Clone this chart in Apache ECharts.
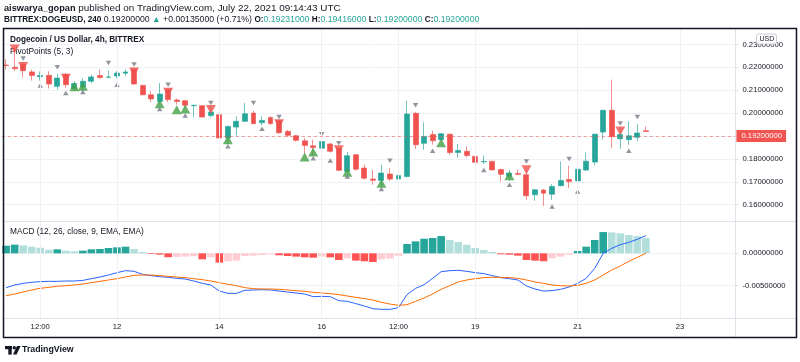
<!DOCTYPE html>
<html><head><meta charset="utf-8">
<script src="https://cdn.jsdelivr.net/npm/echarts@6/dist/echarts.min.js"></script>
<style>html,body{margin:0;padding:0;background:#fff}#c{width:800px;height:362px}</style>
</head><body><div id="c"></div>
<script>
// ---- price data (4h candles, 2021-07-09 20:00 .. 2021-07-22 08:00 UTC)
const opens  = [0.2210,0.2200,0.2212,0.2180,0.2159,0.2165,0.2117,0.2168,0.2107,0.2114,0.2139,0.2164,0.2156,0.2162,0.2174,0.2190,0.2121,0.2080,0.2051,0.2102,0.2057,0.2054,0.2032,0.2032,0.1989,0.1993,0.1891,0.1939,0.1964,0.2000,0.1958,0.1981,0.1967,0.1920,0.1901,0.1879,0.1857,0.1847,0.1865,0.1847,0.1745,0.1818,0.1760,0.1712,0.1706,0.1734,0.1712,0.1723,0.1999,0.1868,0.1906,0.1884,0.1908,0.1828,0.1833,0.1811,0.1787,0.1789,0.1754,0.1723,0.1736,0.1731,0.1643,0.1664,0.1646,0.1683,0.1710,0.1704,0.1751,0.1786,0.1917,0.2012,0.1888,0.1884,0.1894,0.19231];
const highs  = [0.2235,0.2285,0.2223,0.2190,0.2182,0.2183,0.2171,0.2175,0.2139,0.2153,0.2168,0.2190,0.2187,0.2183,0.2190,0.2200,0.2124,0.2095,0.2131,0.2107,0.2063,0.2057,0.2037,0.2035,0.2029,0.1996,0.1946,0.1986,0.2044,0.2010,0.1986,0.1986,0.1971,0.1927,0.1905,0.1891,0.1884,0.1884,0.1870,0.1850,0.1830,0.1821,0.1774,0.1751,0.1774,0.1760,0.1738,0.2054,0.2005,0.1959,0.1923,0.1913,0.1910,0.1865,0.1855,0.1837,0.1815,0.1793,0.1757,0.1752,0.1753,0.1753,0.1669,0.1669,0.1690,0.1789,0.1770,0.1777,0.1828,0.1910,0.2015,0.2146,0.1938,0.1964,0.1952,0.19416];
const lows   = [0.2190,0.2183,0.2156,0.2142,0.2142,0.2107,0.2102,0.2110,0.2098,0.2095,0.2131,0.2150,0.2152,0.2153,0.2161,0.2124,0.2078,0.2047,0.2037,0.2048,0.2037,0.2025,0.1981,0.1981,0.1981,0.1873,0.1865,0.1903,0.1961,0.1952,0.1946,0.1950,0.1910,0.1895,0.1876,0.1818,0.1818,0.1815,0.1828,0.1748,0.1738,0.1748,0.1709,0.1687,0.1680,0.1704,0.1707,0.1719,0.1843,0.1840,0.1862,0.1880,0.1818,0.1806,0.1806,0.1771,0.1777,0.1750,0.1701,0.1704,0.1728,0.1621,0.1617,0.1595,0.1621,0.1680,0.1672,0.1684,0.1748,0.1771,0.1884,0.1847,0.1844,0.1862,0.1879,0.1920];
const closes = [0.2208,0.2194,0.2185,0.2164,0.2164,0.2127,0.2153,0.2124,0.2129,0.2139,0.2158,0.2155,0.2158,0.2175,0.2180,0.2127,0.2080,0.2062,0.2083,0.2059,0.2051,0.2034,0.2034,0.1983,0.2005,0.1891,0.1942,0.1964,0.1997,0.1954,0.1968,0.1954,0.1914,0.1903,0.1881,0.1859,0.1850,0.1876,0.1833,0.1750,0.1814,0.1755,0.1716,0.1707,0.1738,0.1712,0.1728,0.1996,0.1862,0.1898,0.1879,0.1910,0.1828,0.1837,0.1815,0.1785,0.1789,0.1752,0.1733,0.1738,0.1733,0.1639,0.1665,0.1650,0.1680,0.1706,0.1701,0.1755,0.1790,0.1908,0.2012,0.1897,0.1906,0.1901,0.1913,0.1920];
const lastPrice = 0.1920;

// ---- pivot markers (candle index, price)
const pivotHighIdx = [2,6,12,15,19,24,29,32,37,39,45,48,61,66,72,74];
const pivotHighVal = [0.2238,0.2200,0.2219,0.2212,0.2124,0.2044,0.2044,0.1983,0.1908,0.1868,0.1792,0.2034,0.1789,0.1799,0.1955,0.1983];
const pivotLowIdx  = [4,7,9,13,18,21,26,30,36,38,40,44,50,56,59,64,67,73];
const pivotLowVal  = [0.2120,0.2088,0.2092,0.2124,0.2018,0.1990,0.1855,0.1932,0.1803,0.1793,0.1723,0.1668,0.1836,0.1751,0.1687,0.1592,0.1658,0.1836];
const bigHighIdx = [1,2,7,15,19,24,32,39,61,72];
const bigHighVal = [0.2280,0.2203,0.2152,0.2180,0.2091,0.2016,0.1954,0.1840,0.1753,0.1922];
const bigLowIdx  = [8,9,18,20,21,26,35,36,40,44,51,59];
const bigLowVal  = [0.2115,0.2117,0.2041,0.2015,0.2018,0.1884,0.1808,0.1830,0.1742,0.1694,0.1871,0.1726];

// ---- MACD (12, 26, close, 9)
const macdLine = [-0.00531,-0.00490,-0.00464,-0.00448,-0.00438,-0.00433,-0.00433,-0.00428,-0.00428,-0.00418,-0.00392,-0.00366,-0.00335,-0.00299,-0.00268,-0.00278,-0.00325,-0.00345,-0.00361,-0.00371,-0.00387,-0.00397,-0.00428,-0.00464,-0.00490,-0.00583,-0.00619,-0.00619,-0.00572,-0.00567,-0.00562,-0.00567,-0.00583,-0.00598,-0.00613,-0.00629,-0.00670,-0.00665,-0.00670,-0.00732,-0.00742,-0.00778,-0.00814,-0.00856,-0.00866,-0.00866,-0.00840,-0.00639,-0.00541,-0.00485,-0.00387,-0.00284,-0.00268,-0.00263,-0.00278,-0.00299,-0.00314,-0.00345,-0.00376,-0.00392,-0.00412,-0.00505,-0.00552,-0.00583,-0.00577,-0.00557,-0.00521,-0.00464,-0.00387,-0.00232,0.00000,0.00077,0.00134,0.00170,0.00217,0.00273];
const signalLine = [-0.00655,-0.00629,-0.00598,-0.00567,-0.00541,-0.00526,-0.00510,-0.00500,-0.00490,-0.00474,-0.00454,-0.00433,-0.00412,-0.00392,-0.00366,-0.00340,-0.00335,-0.00335,-0.00345,-0.00356,-0.00366,-0.00376,-0.00392,-0.00407,-0.00428,-0.00454,-0.00479,-0.00500,-0.00531,-0.00546,-0.00552,-0.00552,-0.00557,-0.00567,-0.00577,-0.00588,-0.00603,-0.00613,-0.00624,-0.00639,-0.00660,-0.00680,-0.00701,-0.00722,-0.00758,-0.00784,-0.00804,-0.00794,-0.00742,-0.00691,-0.00629,-0.00557,-0.00500,-0.00443,-0.00412,-0.00392,-0.00376,-0.00371,-0.00371,-0.00376,-0.00387,-0.00412,-0.00443,-0.00464,-0.00490,-0.00500,-0.00505,-0.00495,-0.00464,-0.00412,-0.00335,-0.00258,-0.00196,-0.00124,-0.00062,0.00000];
const histogram = [0.00118,0.00134,0.00123,0.00103,0.00087,0.00055,0.00062,0.00041,0.00031,0.00041,0.00062,0.00067,0.00082,0.00093,0.00103,0.00067,0.00021,-0.00010,-0.00020,-0.00060,-0.00055,-0.00050,-0.00045,-0.00093,-0.00060,-0.00144,-0.00123,-0.00113,-0.00041,-0.00036,-0.00026,-0.00015,-0.00030,-0.00041,-0.00051,-0.00062,-0.00067,-0.00051,-0.00062,-0.00103,-0.00077,-0.00113,-0.00123,-0.00134,-0.00093,-0.00082,-0.00040,0.00144,0.00185,0.00226,0.00237,0.00267,0.00206,0.00175,0.00134,0.00082,0.00051,0.00021,-0.00015,-0.00021,-0.00036,-0.00103,-0.00113,-0.00123,-0.00077,-0.00051,-0.00021,0.00036,0.00103,0.00206,0.00329,0.00324,0.00309,0.00283,0.00267,0.00237];

// ---- time axis
const slotCount = 86;
const startUTC = Date.UTC(2021, 6, 9, 20);
const xTickCats   = ['07-10 12:00','07-12 00:00','07-14 00:00','07-16 00:00','07-17 12:00','07-19 00:00','07-21 00:00','07-23 00:00'];
const xTickLabels = ['12:00','12','14','16','12:00','19','21','23'];

const pad = n => (n < 10 ? '0' : '') + n;
const categories = [];
for (let i = 0; i < slotCount; i++) {
  const d = new Date(startUTC + i * 4 * 3600e3);
  categories.push(pad(d.getUTCMonth() + 1) + '-' + pad(d.getUTCDate()) + ' ' + pad(d.getUTCHours()) + ':00');
}

const UP = '#26a69a', DOWN = '#ef5350';
const FONT = 'Liberation Sans, Arial, sans-serif';
const TXT = '#131722';

const candleData = opens.map((o, i) => [o, closes[i], lows[i], highs[i]]);
const histColors = histogram.map((h, i) => {
  const prev = i > 0 ? histogram[i - 1] : 0;
  if (h >= 0) return h > prev ? '#26a69a' : '#b2dfdb';
  return h < prev ? '#ff5252' : '#ffcdd2';
});

const chart = echarts.init(document.getElementById('c'), null, {renderer: 'canvas'});
const gridLeft = 1.84, gridWidth = 733.6;
const vLines = xTickCats.map(c => ({xAxis: c}));
const gridLineStyle = {color: '#eff1f5', width: 1, type: 'solid'};

chart.setOption({
  animation: false,
  backgroundColor: '#fff',
  textStyle: {fontFamily: FONT},
  grid: [
    {left: gridLeft, top: 28, width: gridWidth, height: 193},
    {left: gridLeft, top: 221, width: gridWidth, height: 97}
  ],
  xAxis: [
    {type: 'category', gridIndex: 0, data: categories, boundaryGap: true,
     axisLine: {show: false}, axisTick: {show: false}, axisLabel: {show: false}, splitLine: {show: false}},
    {type: 'category', gridIndex: 1, data: categories, boundaryGap: true,
     axisLine: {show: false}, axisTick: {show: false}, splitLine: {show: false},
     axisLabel: {show: true, color: TXT, fontSize: 7.7, fontFamily: FONT, margin: 5,
       interval: (idx, val) => xTickCats.indexOf(val) >= 0,
       formatter: val => { const k = xTickCats.indexOf(val); return k >= 0 ? xTickLabels[k] : ''; }}}
  ],
  yAxis: [
    {type: 'value', gridIndex: 0, position: 'right', min: 0.15288, max: 0.23716, splitNumber: 8, scale: true,
     axisLine: {show: false}, axisTick: {show: true, length: 3, lineStyle: {color: '#e0e3eb'}},
     axisLabel: {color: TXT, fontSize: 7.7, fontFamily: FONT, margin: 7, showMinLabel: false, showMaxLabel: false,
       formatter: v => v.toFixed(8)},
     splitLine: {show: true, lineStyle: gridLineStyle}},
    {type: 'value', gridIndex: 1, position: 'right', min: -0.01, max: 0.005, interval: 0.005,
     axisLine: {show: false}, axisTick: {show: true, length: 3, lineStyle: {color: '#e0e3eb'}},
     axisLabel: {color: TXT, fontSize: 7.7, fontFamily: FONT, margin: 7, showMinLabel: false, showMaxLabel: false,
       formatter: v => (Math.abs(v) < 1e-12 ? 0 : v).toFixed(8)},
     splitLine: {show: true, lineStyle: gridLineStyle}}
  ],
  series: [
    {type: 'line', xAxisIndex: 0, yAxisIndex: 0, data: [], z: 1, silent: true,
     markLine: {silent: true, symbol: 'none', label: {show: false}, lineStyle: gridLineStyle, data: vLines}},
    {type: 'line', xAxisIndex: 1, yAxisIndex: 1, data: [], z: 1, silent: true,
     markLine: {silent: true, symbol: 'none', label: {show: false}, lineStyle: gridLineStyle, data: vLines}},
    {type: 'candlestick', xAxisIndex: 0, yAxisIndex: 0, data: candleData, z: 3, barWidth: 5.4,
     itemStyle: {color: UP, color0: DOWN, borderColor: 'rgba(38,166,154,0.65)', borderColor0: 'rgba(239,83,80,0.65)', borderWidth: 1},
     markLine: {silent: true, symbol: 'none', z: 10,
       lineStyle: {color: 'rgba(239,83,80,0.55)', type: [3, 3], width: 1},
       label: {show: true, position: 'end', distance: 1, formatter: lastPrice.toFixed(8),
         color: '#fff', backgroundColor: '#f05350', fontSize: 7.7, fontFamily: FONT, padding: [2, 4, 2, 5]},
       data: [{yAxis: lastPrice}]}},
    {type: 'scatter', xAxisIndex: 0, yAxisIndex: 0, z: 4, symbol: 'triangle', symbolSize: [10, 9], symbolRotate: 180,
     itemStyle: {color: '#f0504c'}, data: bigHighIdx.map((i, k) => [i, bigHighVal[k]])},
    {type: 'scatter', xAxisIndex: 0, yAxisIndex: 0, z: 4, symbol: 'triangle', symbolSize: [10, 9],
     itemStyle: {color: '#43a047'}, data: bigLowIdx.map((i, k) => [i, bigLowVal[k]])},
    {type: 'scatter', xAxisIndex: 0, yAxisIndex: 0, z: 4, symbol: 'triangle', symbolSize: [5.5, 4.5], symbolRotate: 180,
     itemStyle: {color: '#787b86'}, data: pivotHighIdx.map((i, k) => [i, pivotHighVal[k]])},
    {type: 'scatter', xAxisIndex: 0, yAxisIndex: 0, z: 4, symbol: 'triangle', symbolSize: [5.5, 4.5],
     itemStyle: {color: '#787b86'}, data: pivotLowIdx.map((i, k) => [i, pivotLowVal[k]])},
    {type: 'bar', xAxisIndex: 1, yAxisIndex: 1, z: 3, barWidth: 7.6,
     data: histogram.map((h, i) => ({value: h, itemStyle: {color: histColors[i]}}))},
    {type: 'line', xAxisIndex: 1, yAxisIndex: 1, z: 4, data: macdLine, symbol: 'none',
     lineStyle: {color: '#2962ff', width: 1}},
    {type: 'line', xAxisIndex: 1, yAxisIndex: 1, z: 4, data: signalLine, symbol: 'none',
     lineStyle: {color: '#ff6d00', width: 1}}
  ],
  graphic: [
    {type: 'text', left: 4, top: 3, z: 50, style: {
      text: '{b|aiswarya_gopan}{n| published on TradingView.com, July 22, 2021 09:14:43 UTC}',
      rich: {b: {fontWeight: 'bold', fontSize: 9.2, fontFamily: FONT, fill: TXT}, n: {fontSize: 9.9, fontFamily: FONT, fill: TXT}}}},
    {type: 'text', left: 4, top: 15, z: 50, style: {
      text: '{b|BITTREX:DOGEUSD, 240}{n| 0.19200000 }{g|▲}{n| +0.00135000 (+0.71%) }{b|O:}{g|0.19231000}{n| }{b|H:}{g|0.19416000}{n| }{b|L:}{g|0.19200000}{n| }{b|C:}{g|0.19200000}',
      rich: {b: {fontWeight: 'bold', fontSize: 8.2, fontFamily: FONT, fill: TXT},
             n: {fontSize: 8.7, fontFamily: FONT, fill: TXT},
             g: {fontSize: 8.7, fontFamily: FONT, fill: '#26a69a'}}}},
    {type: 'text', left: 10, top: 36, z: 50, style: {text: 'Dogecoin / US Dollar, 4h, BITTREX', fontWeight: 'bold', fontSize: 8.2, fontFamily: FONT, fill: TXT}},
    {type: 'text', left: 10, top: 48, z: 2, style: {text: 'PivotPoints (5, 3)', fontSize: 8.3, fontFamily: FONT, fill: TXT}},
    {type: 'text', left: 10, top: 228, z: 50, style: {text: 'MACD (12, 26, close, 9, EMA, EMA)', fontSize: 8.3, fontFamily: FONT, fill: TXT}},
    // pane separators and price scale border
    {type: 'line', z: 40, shape: {x1: 3, y1: 221.5, x2: 797, y2: 221.5}, style: {stroke: '#e0e3eb', lineWidth: 1}},
    {type: 'line', z: 40, shape: {x1: 3, y1: 318.5, x2: 797, y2: 318.5}, style: {stroke: '#e0e3eb', lineWidth: 1}},
    {type: 'line', z: 40, shape: {x1: 735.5, y1: 28, x2: 735.5, y2: 338}, style: {stroke: '#e0e3eb', lineWidth: 1}},
    // USD badge
    {type: 'rect', z: 60, shape: {x: 756.5, y: 34, width: 20, height: 10, r: 2}, style: {fill: '#fff', stroke: '#c9ccd4', lineWidth: 1}},
    {type: 'text', z: 61, left: 759.5, top: 35.5, style: {text: 'USD', fontSize: 7, fontFamily: FONT, fill: TXT}},
    // frame
    {type: 'rect', z: 70, shape: {x: 3.5, y: 28.5, width: 793, height: 309}, style: {fill: 'none', stroke: '#131722', lineWidth: 1.5}},
    // TradingView logo
    {type: 'rect', z: 50, shape: {x: 5, y: 346, width: 7, height: 3.2}, style: {fill: TXT}},
    {type: 'rect', z: 50, shape: {x: 8.3, y: 346, width: 3.4, height: 8.6}, style: {fill: TXT}},
    {type: 'circle', z: 50, shape: {cx: 14.3, cy: 347.7, r: 1.7}, style: {fill: TXT}},
    {type: 'polygon', z: 50, shape: {points: [[17, 346], [20.6, 346], [16.6, 354.6], [13, 354.6]]}, style: {fill: TXT}},
    {type: 'text', z: 50, left: 22, top: 345, style: {text: 'TradingView', fontWeight: 'bold', fontSize: 8.8, fontFamily: FONT, fill: TXT}}
  ]
});
</script>
</body></html>
